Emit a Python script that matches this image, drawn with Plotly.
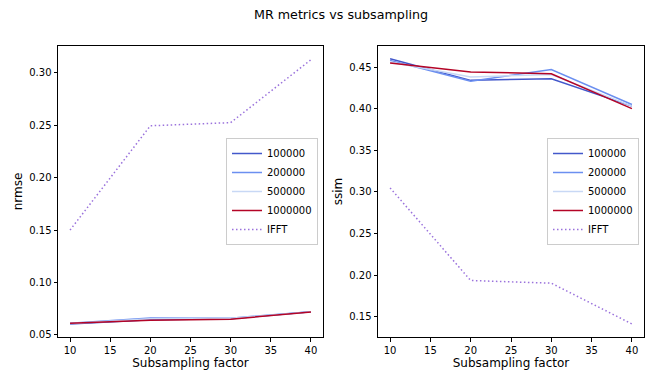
import plotly.graph_objects as go
from plotly.subplots import make_subplots

subsampling = [10, 20, 30, 40]
series_names = ["100000", "200000", "500000", "1000000", "IFFT"]

nrmse_100000 = [0.0605, 0.0645, 0.0655, 0.0720]
nrmse_200000 = [0.0610, 0.0662, 0.0660, 0.0722]
nrmse_500000 = [0.0608, 0.0655, 0.0658, 0.0721]
nrmse_1000000 = [0.0612, 0.0640, 0.0650, 0.0718]
nrmse_ifft = [0.150, 0.2495, 0.2525, 0.3125]

ssim_100000 = [0.460, 0.434, 0.436, 0.403]
ssim_200000 = [0.458, 0.433, 0.447, 0.405]
ssim_500000 = [0.456, 0.438, 0.441, 0.403]
ssim_1000000 = [0.455, 0.444, 0.442, 0.400]
ssim_ifft = [0.3047, 0.1934, 0.1902, 0.1412]

x_ticks = [10, 15, 20, 25, 30, 35, 40]
nrmse_ticks = [0.05, 0.10, 0.15, 0.20, 0.25, 0.30]
ssim_ticks = [0.15, 0.20, 0.25, 0.30, 0.35, 0.40, 0.45]

colors = ["#4358cb", "#6b8ff0", "#c8d8f5", "#b40426", "#9a72dc"]
dashes = ["solid", "solid", "solid", "solid", "1.5px,2.5px"]

nrmse_series = [nrmse_100000, nrmse_200000, nrmse_500000, nrmse_1000000, nrmse_ifft]
ssim_series = [ssim_100000, ssim_200000, ssim_500000, ssim_1000000, ssim_ifft]

FONT = "DejaVu Sans"
W, H = 651, 375
ml, mr, mt, mb = 58, 7, 46, 38
pw = W - ml - mr

fig = make_subplots(rows=1, cols=2)
fig.update_layout(
    xaxis=dict(domain=[0, (323 - ml) / pw]),
    xaxis2=dict(domain=[(378 - ml) / pw, 1]),
)

for name, ys, c, d in zip(series_names, nrmse_series, colors, dashes):
    fig.add_trace(go.Scatter(x=subsampling, y=ys, mode="lines", name=name,
                             line=dict(color=c, width=1.5, dash=d), legend="legend"),
                  row=1, col=1)
for name, ys, c, d in zip(series_names, ssim_series, colors, dashes):
    fig.add_trace(go.Scatter(x=subsampling, y=ys, mode="lines", name=name,
                             line=dict(color=c, width=1.5, dash=d), legend="legend2"),
                  row=1, col=2)

axis_common = dict(showline=True, linecolor="black", linewidth=1, mirror=True,
                   ticks="outside", ticklen=3.5, tickcolor="black", showgrid=False,
                   zeroline=False, tickfont=dict(family=FONT, size=10, color="black"))

for col in (1, 2):
    fig.update_xaxes(range=[8.5, 41.5], tickvals=x_ticks, **axis_common,
                     title=dict(text="Subsampling factor", font=dict(family=FONT, size=12, color="black"), standoff=4),
                     row=1, col=col)

fig.update_yaxes(range=[0.048, 0.3256], tickvals=nrmse_ticks, tickformat=".2f", **axis_common,
                 title=dict(text="nrmse", font=dict(family=FONT, size=12, color="black"), standoff=4),
                 row=1, col=1)
fig.update_yaxes(range=[0.1255, 0.4753], tickvals=ssim_ticks, tickformat=".2f", **axis_common,
                 title=dict(text="ssim", font=dict(family=FONT, size=12, color="black"), standoff=4),
                 row=1, col=2)

legend_common = dict(bgcolor="rgba(255,255,255,0.8)", bordercolor="#cccccc", borderwidth=1,
                     font=dict(family=FONT, size=10, color="black"), xanchor="right", yanchor="middle",
                     y=0.5, tracegroupgap=0, itemwidth=30)
fig.update_layout(
    legend=dict(x=(318 - ml) / pw, **legend_common),
    legend2=dict(x=(639 - ml) / pw, **legend_common),
)

fig.update_layout(
    width=W, height=H,
    margin=dict(l=ml, r=mr, t=mt, b=mb),
    paper_bgcolor="white", plot_bgcolor="white",
    font=dict(family=FONT, color="black"),
    title=dict(text="MR metrics vs subsampling", x=341 / W, xanchor="center", y=1 - 15 / H, yanchor="middle",
               font=dict(family=FONT, size=12.7, color="black")),
)

fig.write_html("out.html", config={"displayModeBar": False},
               post_script="document.body.style.margin='0';document.body.style.padding='0';")
